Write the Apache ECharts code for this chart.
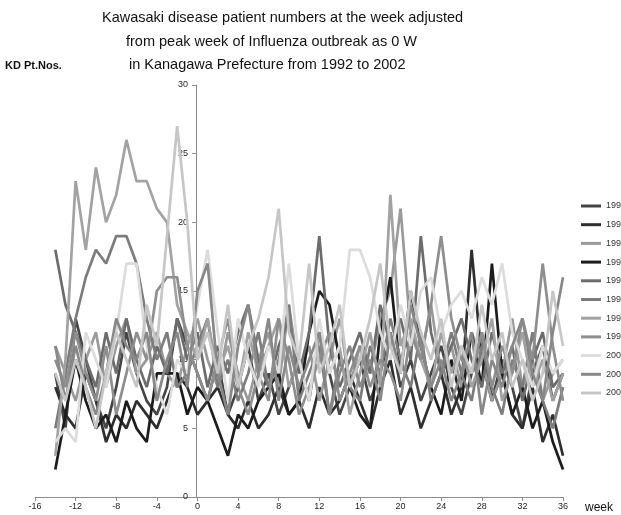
<!DOCTYPE html>
<html><head><meta charset="utf-8">
<script src="https://cdn.jsdelivr.net/npm/echarts@6/dist/echarts.min.js"></script>
<style>html,body{margin:0;padding:0;background:#fff}#c{width:621px;height:515px}</style>
</head><body><div id="c"></div>
<script>
var weeks = [];
for (var w = -14; w <= 36; w++) weeks.push(w);
var seriesNames = ['1992','1993','1994','1995','1996','1997','1998','1999','2000','2001','2002'];
var seriesColors = ['#454545','#2e2e2e','#9a9a9a','#1c1c1c','#6c6c6c','#7c7c7c','#a2a2a2','#8e8e8e','#dcdcdc','#888888','#c6c6c6'];
var v1992 = [9,5,13,10,7,5,8,12,9,7, 6,8,13,11,9,7,10,6,8,11, 7,9,6,8,10,7,12,9,6,8, 10,7,9,12,8,10,7,9,11,8, 6,9,12,7,10,8,5,9,11,7, 9];
var v1993 = [8,6,5,9,7,4,6,5,7,6, 5,7,9,8,6,7,8,6,5,7, 5,6,8,6,7,5,8,6,7,9, 7,5,8,10,6,8,5,7,9,6, 8,18,10,7,9,6,5,8,4,6, 3];
var v1994 = [11,9,7,10,12,8,11,13,9,10, 12,9,8,11,13,10,8,12,9,7, 10,12,8,14,9,11,7,10,13,8, 11,9,13,15,21,12,10,14,9,11, 8,12,10,7,9,13,8,10,7,9, 10];
var v1995 = [2,6,10,7,5,6,4,7,5,4, 9,9,9,6,8,7,5,3,6,5, 7,8,9,6,7,12,15,14,10,8, 6,5,12,16,9,15,11,8,6,10, 7,12,8,17,9,6,8,5,7,4, 2];
var v1996 = [18,14,12,10,8,12,9,13,10,8, 11,9,13,10,12,8,11,9,12,14, 10,8,11,13,9,12,19,11,8,10, 12,9,14,11,13,10,19,12,9,11, 13,10,8,12,9,11,7,10,12,8, 9];
var v1997 = [5,9,13,16,18,17,19,19,17,13, 10,12,8,9,11,13,8,10,7,9, 12,8,10,14,7,9,11,6,10,8, 7,11,9,13,10,8,12,7,9,12, 9,7,11,8,6,10,8,12,7,5, 8];
var v1998 = [3,10,23,18,24,20,22,26,23,23, 21,20,14,12,10,13,9,11,8,12, 9,11,13,8,10,7,12,9,11,6, 9,12,8,22,11,13,10,8,12,9, 11,8,10,13,7,9,12,8,10,7, 9];
var v1999 = [10,8,12,9,7,11,6,9,12,10, 15,16,16,11,9,7,10,13,8,6, 9,7,13,10,6,8,10,12,7,9, 11,8,10,9,7,12,10,14,19,13, 10,9,12,8,11,9,13,10,17,11, 7];
var v2000 = [4,5,4,12,10,8,12,17,17,11, 8,6,10,9,14,18,12,7,13,10, 8,11,9,17,10,7,13,9,11,18, 18,16,12,10,14,11,15,16,12,14, 15,13,16,14,17,12,10,8,11,9, 10];
var v2001 = [11,7,11,8,6,9,13,11,10,12, 7,10,12,8,15,17,9,6,11,14, 9,13,7,11,8,10,12,6,9,11, 8,10,7,12,9,14,11,8,10,7, 9,12,6,10,8,11,13,9,7,12, 16];
var v2002 = [9,7,10,8,5,9,12,10,8,14, 11,19,27,20,10,12,9,14,8,11, 13,16,21,12,10,17,9,11,14,8, 10,13,17,11,9,15,12,10,13,8, 11,9,14,10,12,8,10,7,9,15, 11];
var allValues = [v1992,v1993,v1994,v1995,v1996,v1997,v1998,v1999,v2000,v2001,v2002];
var titleLines = ['Kawasaki disease patient numbers at the week adjusted','from peak week of Influenza outbreak as 0 W','in Kanagawa Prefecture from 1992 to 2002'];

var FONT = '"Liberation Sans","Noto Sans",sans-serif';
var series = seriesNames.map(function (n, i) {
  return {
    name: n, type: 'line', showSymbol: false, symbol: 'none',
    data: weeks.map(function (w, k) { return [w, allValues[i][k]]; }),
    lineStyle: { width: 2.7, color: seriesColors[i] },
    itemStyle: { color: seriesColors[i] },
    animation: false
  };
});
var chart = echarts.init(document.getElementById('c'), null, { renderer: 'canvas' });
chart.setOption({
  animation: false,
  backgroundColor: '#fff',
  grid: { left: 35, right: 58, top: 85, bottom: 18, containLabel: false },
  xAxis: {
    type: 'value', min: -16, max: 36, interval: 4,
    axisLine: { show: true, onZero: false, lineStyle: { color: '#8c8c8c', width: 1 } },
    axisTick: { show: true, length: 4, lineStyle: { color: '#8c8c8c' } },
    axisLabel: { fontSize: 9, color: '#222', margin: 5, fontFamily: FONT },
    splitLine: { show: false }
  },
  yAxis: {
    type: 'value', min: 0, max: 30, interval: 5, offset: -161,
    axisLine: { show: true, onZero: false, lineStyle: { color: '#8c8c8c', width: 1 } },
    axisTick: { show: true, length: 4, lineStyle: { color: '#8c8c8c' } },
    axisLabel: { fontSize: 9, color: '#222', margin: 8, fontFamily: FONT },
    splitLine: { show: false }
  },
  legend: {
    orient: 'vertical', left: 581, top: 200, padding: 0, itemWidth: 20, itemHeight: 3, itemGap: 6.7,
    icon: 'rect',
    textStyle: { fontSize: 9, color: '#333', lineHeight: 12, fontFamily: FONT },
    data: seriesNames
  },
  graphic: [
    { type: 'text', left: 102, top: 10, style: { text: titleLines[0], font: '14.5px ' + FONT, fill: '#111' } },
    { type: 'text', left: 126, top: 34, style: { text: titleLines[1], font: '14.5px ' + FONT, fill: '#111' } },
    { type: 'text', left: 129, top: 57, style: { text: titleLines[2], font: '14.5px ' + FONT, fill: '#111' } },
    { type: 'text', left: 5, top: 60, style: { text: 'KD Pt.Nos.', font: 'bold 11px ' + FONT, fill: '#111' } },
    { type: 'text', left: 585, top: 502, style: { text: 'week', font: '12px ' + FONT, fill: '#111' } }
  ],
  series: series
});
</script></body></html>
